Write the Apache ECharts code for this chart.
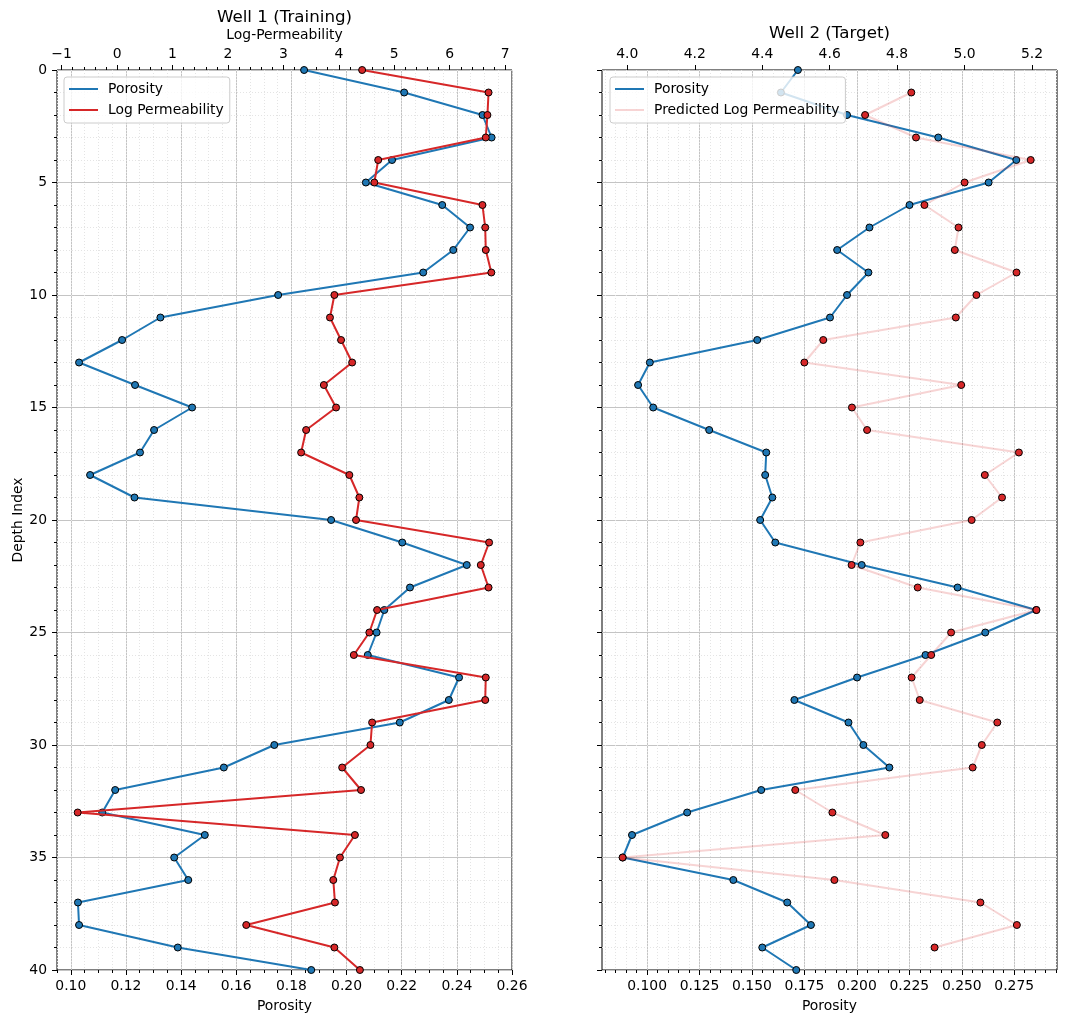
<!DOCTYPE html>
<html>
<head>
<meta charset="utf-8">
<title>Well logs</title>
<script src="https://cdn.jsdelivr.net/npm/echarts@6/dist/echarts.min.js"></script>
<style>
  html, body { margin: 0; padding: 0; background: #fff; }
  #chart { width: 1067px; height: 1023px; }
</style>
</head>
<body>
<div id="chart"></div>
<script>
// depth index shared by both wells
var depth = [0,1,2,3,4,5,6,7,8,9,10,11,12,13,14,15,16,17,18,19,20,
             21,22,23,24,25,26,27,28,29,30,31,32,33,34,35,36,37,38,39,40];

// Well 1 (training)
var poro1 = [0.1846,0.2209,0.2493,0.2526,0.2165,0.2070,0.2347,0.2448,0.2387,0.2278,
             0.1752,0.1325,0.1186,0.1030,0.1233,0.1440,0.1302,0.1251,0.1070,0.1231,
             0.1944,0.2202,0.2436,0.2230,0.2137,0.2109,0.2077,0.2408,0.2371,0.2193,
             0.1738,0.1555,0.1161,0.1114,0.1486,0.1375,0.1426,0.1026,0.1030,0.1388,0.1872];
var logk1 = [4.42,6.70,6.68,6.65,4.71,4.64,6.59,6.64,6.65,6.75,
             3.92,3.84,4.04,4.24,3.73,3.95,3.41,3.32,4.19,4.37,
             4.31,6.71,6.56,6.70,4.69,4.55,4.27,6.65,6.64,4.60,
             4.57,4.06,4.40,-0.71,4.29,4.02,3.90,3.93,2.33,3.92,4.38];

// Well 2 (target)
var poro2 = [0.1719,0.1638,0.1953,0.2388,0.2760,0.2628,0.2251,0.2060,0.1906,0.2055,
             0.1953,0.1872,0.1525,0.1013,0.0957,0.1029,0.1296,0.1568,0.1563,0.1597,
             0.1539,0.1611,0.2023,0.2480,0.2855,0.2612,0.2327,0.2001,0.1702,0.1960,
             0.2031,0.2155,0.1544,0.1191,0.0928,0.0884,0.1411,0.1668,0.1781,0.1549,0.1711];
var predDepth = [1,2,3,4,5,6,7,8,9,10,11,12,13,14,15,16,17,18,19,20,
                 21,22,23,24,25,26,27,28,29,30,31,32,33,34,35,36,37,38,39];
var predLogk = [4.842,4.705,4.856,5.196,5.000,4.881,4.982,4.971,5.154,5.035,
                4.974,4.581,4.525,4.990,4.666,4.711,5.161,5.060,5.111,5.021,
                4.691,4.665,4.861,5.213,4.960,4.901,4.843,4.867,5.097,5.051,
                5.024,4.498,4.608,4.765,3.986,4.614,5.047,5.155,4.911];

// tick labels
var poroTicks1 = [0.10,0.12,0.14,0.16,0.18,0.20,0.22,0.24,0.26];
var permTicks1 = [-1,0,1,2,3,4,5,6,7];
var poroTicks2 = [0.100,0.125,0.150,0.175,0.200,0.225,0.250,0.275];
var permTicks2 = [4.0,4.2,4.4,4.6,4.8,5.0,5.2];

function steps(a, b, s) {
    var out = [];
    for (var v = a; v <= b + 1e-9; v += s) out.push(Math.round(v * 10000) / 10000);
    return out;
}
var poroMinor1 = steps(0.095, 0.26, 0.005);
var permMinor1 = steps(-1.0, 7.0, 0.2);
var poroMinor2 = steps(0.080, 0.295, 0.005);

var FONT = 'DejaVu Sans';
var BLUE = '#1f77b4';
var RED = '#d62728';
var MAJOR = '#c4c4c4';
var MINOR = '#e4e4e4';

function pairs(xs, ys) {
    return ys.map(function (y, i) { return [xs[i], y]; });
}
function minus(v) { return String(v).replace('-', '\u2212'); }

var labelStyle = { fontFamily: FONT, fontSize: 13.9, color: '#000' };

function mainX(grid, pos, min, max, ticks, fmt, grid_lines, name) {
    return {
        type: 'value', gridIndex: grid, position: pos, min: min, max: max,
        name: name || '', nameLocation: 'middle',
        nameGap: pos === 'top' ? 25 : 29,
        nameTextStyle: { fontFamily: FONT, fontSize: 13.9, color: '#000' },
        axisLine: { show: false, onZero: false },
        axisTick: { show: true, length: 5, customValues: ticks, lineStyle: { color: '#000', width: 1 } },
        axisLabel: Object.assign({ customValues: ticks, margin: 9, formatter: fmt }, labelStyle),
        splitLine: { show: grid_lines, lineStyle: { color: MAJOR, width: 1 } }
    };
}
function minorX(grid, pos, min, max, ticks, grid_lines) {
    return {
        type: 'value', gridIndex: grid, position: pos, min: min, max: max,
        axisLine: { show: false, onZero: false },
        axisTick: { show: true, length: 3, customValues: ticks, lineStyle: { color: '#000', width: 1 } },
        axisLabel: { show: false },
        splitLine: { show: grid_lines, lineStyle: { color: MINOR, width: 1, type: [1, 2] } }
    };
}
function depthY(grid, labels) {
    return {
        type: 'value', gridIndex: grid, inverse: true, min: 0, max: 40, interval: 5,
        position: 'left',
        name: labels ? 'Depth Index' : '', nameLocation: 'middle', nameGap: 32,
        nameTextStyle: { fontFamily: FONT, fontSize: 13.9, color: '#000' },
        axisLine: { show: false, onZero: false },
        axisTick: { show: true, length: 5, lineStyle: { color: '#000' } },
        minorTick: { show: true, splitNumber: 5, length: 3, lineStyle: { color: '#000' } },
        axisLabel: Object.assign({ show: labels, margin: 10 }, labelStyle),
        splitLine: { show: true, lineStyle: { color: MAJOR, width: 1 } },
        minorSplitLine: { show: true, lineStyle: { color: MINOR, width: 1, type: [1, 2] } }
    };
}

function legendBox(left, items) {
    return {
        left: left, top: 77, orient: 'vertical',
        padding: [4, 6, 5, 5], itemGap: 5, itemWidth: 29, itemHeight: 2,
        backgroundColor: 'rgba(255,255,255,0.8)',
        borderColor: '#cccccc', borderWidth: 1, borderRadius: 3,
        itemStyle: { borderWidth: 0 },
        textStyle: { fontFamily: FONT, fontSize: 13.9, color: '#000', lineHeight: 16, padding: [0, 0, 0, 5] },
        data: items
    };
}

var chart = echarts.init(document.getElementById('chart'), null, { renderer: 'canvas' });

var option = {
    animation: false,
    backgroundColor: '#fff',
    textStyle: { fontFamily: FONT },
    title: [{
        text: 'Well 1 (Training)', left: 284.5, top: 9, textAlign: 'center', padding: 0,
        textStyle: { fontFamily: FONT, fontSize: 16.7, fontWeight: 'normal', color: '#000' }
    }, {
        text: 'Well 2 (Target)', left: 829.5, top: 25, textAlign: 'center', padding: 0,
        textStyle: { fontFamily: FONT, fontSize: 16.7, fontWeight: 'normal', color: '#000' }
    }],
    legend: [
        legendBox(64, [
            { name: 'Porosity', icon: 'rect' },
            { name: 'Log Permeability', icon: 'rect' }
        ]),
        legendBox(610, [
            { name: 'Porosity', icon: 'rect' },
            { name: 'Predicted Log Permeability', icon: 'rect', itemStyle: { color: 'rgba(214,39,40,0.2)' } }
        ])
    ],
    grid: [
        { left: 57, right: 555, top: 70, bottom: 53, show: true, borderColor: '#000', borderWidth: 1, backgroundColor: 'transparent' },
        { left: 602, right: 10, top: 70, bottom: 53, show: true, borderColor: '#000', borderWidth: 1, backgroundColor: 'transparent' }
    ],
    xAxis: [
        mainX(0, 'bottom', 0.095, 0.26, poroTicks1, function (v) { return v.toFixed(2); }, true, 'Porosity'),
        minorX(0, 'bottom', 0.095, 0.26, poroMinor1, true),
        mainX(0, 'top', -1.083, 7.123, permTicks1, function (v) { return minus(Math.round(v)); }, false, 'Log-Permeability'),
        minorX(0, 'top', -1.083, 7.123, permMinor1, false),
        mainX(1, 'bottom', 0.0785, 0.2954, poroTicks2, function (v) { return v.toFixed(3); }, true, 'Porosity'),
        minorX(1, 'bottom', 0.0785, 0.2954, poroMinor2, true),
        mainX(1, 'top', 3.925, 5.274, permTicks2, function (v) { return v.toFixed(1); }, false, '')
    ],
    yAxis: [depthY(0, true), depthY(1, false)],
    series: [{
        name: 'Porosity', type: 'line', xAxisIndex: 0, yAxisIndex: 0,
        data: pairs(poro1, depth),
        symbol: 'circle', symbolSize: 7,
        lineStyle: { color: BLUE, width: 2 },
        itemStyle: { color: BLUE, borderColor: '#000', borderWidth: 1 },
        emphasis: { disabled: true }, z: 3
    }, {
        name: 'Log Permeability', type: 'line', xAxisIndex: 2, yAxisIndex: 0,
        data: pairs(logk1, depth),
        symbol: 'circle', symbolSize: 7,
        lineStyle: { color: RED, width: 2 },
        itemStyle: { color: RED, borderColor: '#000', borderWidth: 1 },
        emphasis: { disabled: true }, z: 4
    }, {
        name: 'Porosity', type: 'line', xAxisIndex: 4, yAxisIndex: 1,
        data: pairs(poro2, depth),
        symbol: 'circle', symbolSize: 7,
        lineStyle: { color: BLUE, width: 2 },
        itemStyle: { color: BLUE, borderColor: '#000', borderWidth: 1 },
        emphasis: { disabled: true }, z: 3
    }, {
        name: 'Predicted Log Permeability', type: 'line', xAxisIndex: 6, yAxisIndex: 1,
        data: pairs(predLogk, predDepth),
        symbol: 'circle', symbolSize: 7,
        lineStyle: { color: RED, width: 2, opacity: 0.2 },
        itemStyle: { color: RED, borderColor: '#000', borderWidth: 1 },
        emphasis: { disabled: true }, z: 4
    }]
};

chart.setOption(option);
</script>
</body>
</html>
